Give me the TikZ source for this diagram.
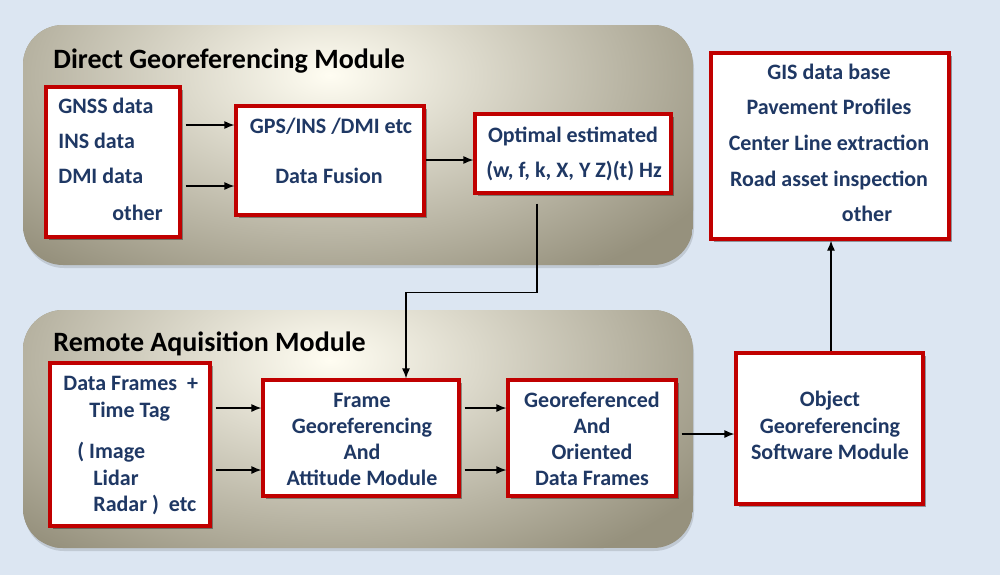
\documentclass[tikz,border=0pt]{standalone}
\usepackage{fontspec}
\setmainfont{Carlito}
\usetikzlibrary{arrows.meta,shadows}

\definecolor{backblue}{RGB}{220,230,242}
\definecolor{txtblue}{RGB}{31,56,100}
\definecolor{boxred}{RGB}{192,0,0}
\definecolor{modlight}{RGB}{255,253,242}
\definecolor{moddark}{RGB}{150,145,125}

\tikzset{
  redbox/.style={draw=boxred, line width=1.6pt, fill=white, inner sep=0pt,
    drop shadow={shadow xshift=1.5pt, shadow yshift=-1.5pt, fill=black, opacity=0.35}},
  txt/.style={text=txtblue, inner sep=0pt, font=\bfseries\fontsize{11}{13}\selectfont},
  title/.style={text=black, inner sep=0pt, anchor=base west, font=\bfseries\fontsize{14}{16}\selectfont},
  arr/.style={draw=black, line width=0.6pt, -{Latex[length=5pt,width=4pt]}},
}

\begin{document}
\begin{tikzpicture}[x=0.5pt, y=-0.5pt]

\useasboundingbox (0,0) rectangle (1000,575);
\fill[backblue] (0,0) rectangle (1000,575);

% -------- Modules -----------
\fill[black, opacity=0.12, rounded corners=20pt] (24,28) rectangle (694,268);
\begin{scope}
\clip[rounded corners=20pt] (23,25) rectangle (693,265);
\fill[moddark] (23,25) rectangle (693,265);
\shade[inner color=modlight, outer color=moddark] (330,75) ellipse (440 and 240);
\end{scope}
\node[title] (dgtitle) at (53,68) {Direct Georeferencing Module};

\fill[black, opacity=0.12, rounded corners=20pt] (24,313) rectangle (694,551);
\begin{scope}
\clip[rounded corners=20pt] (23,310) rectangle (693,548);
\fill[moddark] (23,310) rectangle (693,548);
\shade[inner color=modlight, outer color=moddark] (330,360) ellipse (440 and 240);
\end{scope}
\node[title] (ratitle) at (53,351) {Remote Aquisition Module};

% -------- Boxes -----------
\node[redbox, minimum width=67pt, minimum height=75pt]   (sensors)  at (113,162)   {};
\node[redbox, minimum width=94pt, minimum height=54.5pt] (fusion)   at (330,160.5) {};
\node[redbox, minimum width=98pt, minimum height=39.5pt] (optimal)  at (573,153.5) {};
\node[redbox, minimum width=119pt, minimum height=93pt]  (gis)      at (830,146)   {};
\node[redbox, minimum width=80pt, minimum height=81.5pt] (frames)   at (130,444.5) {};
\node[redbox, minimum width=98pt, minimum height=58pt]   (attitude) at (361,438)   {};
\node[redbox, minimum width=84pt, minimum height=58pt]   (oriented) at (592,438)   {};
\node[redbox, minimum width=93.5pt, minimum height=75.5pt] (object) at (829.5,428.5) {};

% -------- Texts -----------
\node[txt, anchor=base west] (gnss) at (58,113) {GNSS data};
\node[txt, anchor=base west] (ins)  at (58,148) {INS data};
\node[txt, anchor=base west] (dmi)  at (58,183) {DMI data};
\node[txt, anchor=base west] (oth1) at (112,220) {other};

\node[txt, anchor=base] (gps) at (331,133) {GPS/INS /DMI etc};
\node[txt, anchor=base] (fus) at (329,183) {Data Fusion};

\node[txt, anchor=base] (opt) at (573,142) {Optimal estimated};
\node[txt, anchor=base] (wfk) at (574,177) {(w, f, k, X, Y Z)(t) Hz};

\node[txt, anchor=base] (gisdb) at (829,79)  {GIS data base};
\node[txt, anchor=base] (pave)  at (829,114) {Pavement Profiles};
\node[txt, anchor=base] (cline) at (829,150) {Center Line extraction};
\node[txt, anchor=base] (road)  at (829,186) {Road asset inspection};
\node[txt, anchor=base] (oth2)  at (867,221) {other};

\node[txt, anchor=base west] (dfr)   at (63,390) {Data Frames\ \ +};
\node[txt, anchor=base west] (ttag)  at (89,417) {Time Tag};
\node[txt, anchor=base west] (img)   at (77,458) {( Image};
\node[txt, anchor=base west] (lidar) at (93,485) {Lidar};
\node[txt, anchor=base west] (radar) at (93,511) {Radar )\ \ etc};

\node[txt, anchor=base] (fr1) at (362,407) {Frame};
\node[txt, anchor=base] (fr2) at (362,433) {Georeferencing};
\node[txt, anchor=base] (fr3) at (362,459) {And};
\node[txt, anchor=base] (fr4) at (362,485) {Attitude Module};

\node[txt, anchor=base] (go1) at (592,407) {Georeferenced};
\node[txt, anchor=base] (go2) at (592,433) {And};
\node[txt, anchor=base] (go3) at (592,459) {Oriented};
\node[txt, anchor=base] (go4) at (592,485) {Data Frames};

\node[txt, anchor=base] (ob1) at (830,406) {Object};
\node[txt, anchor=base] (ob2) at (830,433) {Georeferencing};
\node[txt, anchor=base] (ob3) at (830,459) {Software Module};

% -------- Arrows -----------
\draw[arr] ([xshift=2pt,yshift=18.5pt]sensors.east) -- ([yshift=17.75pt]fusion.west);
\draw[arr] ([xshift=2pt,yshift=-12pt]sensors.east) -- ([yshift=-12.75pt]fusion.west);
\draw[arr] ([yshift=0.25pt]fusion.east) -- ([yshift=-3.25pt]optimal.west);

\draw[arr] ([xshift=-18pt,yshift=-4.5pt]optimal.south) -- ++(0,-44.5pt) -| ([xshift=22.5pt]attitude.north);

\draw[arr] ([xshift=2pt,yshift=18.25pt]frames.east) -- ([yshift=15pt]attitude.west);
\draw[arr] ([xshift=2pt,yshift=-12.75pt]frames.east) -- ([yshift=-16pt]attitude.west);
\draw[arr] ([xshift=2pt,yshift=15pt]attitude.east) -- ([yshift=15pt]oriented.west);
\draw[arr] ([xshift=2pt,yshift=-16pt]attitude.east) -- ([yshift=-16pt]oriented.west);
\draw[arr] ([xshift=2pt,yshift=2pt]oriented.east) -- ([yshift=-2.75pt]object.west);

\draw[arr] ([xshift=0.75pt]object.north) -- ([xshift=0.75pt]object.north |- gis.south);

\end{tikzpicture}
\end{document}
